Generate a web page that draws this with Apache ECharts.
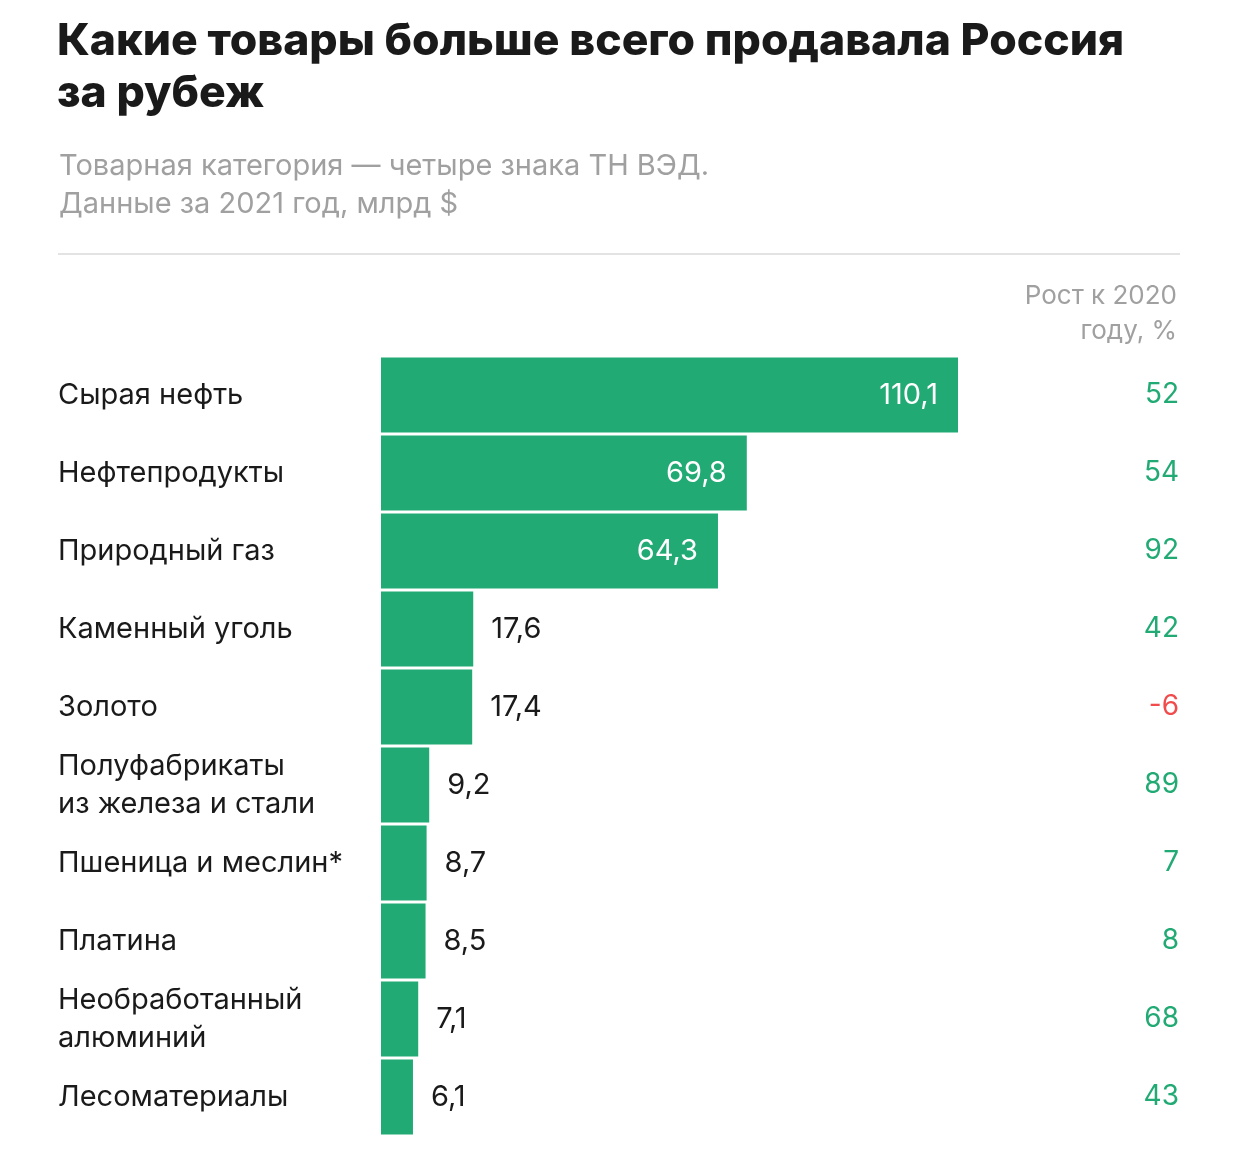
<!DOCTYPE html>
<html lang="ru">
<head>
    <meta charset="UTF-8">
    <title>Экспорт России 2021</title>
    <script type="text/javascript" src="https://cdn.jsdelivr.net/npm/echarts@6/dist/echarts.min.js"></script>
    <style>
        html, body { margin: 0; padding: 0; background: #fff; }
    </style>
</head>
<body>
    <div id="main" style="width: 1260px; height: 1156px;"></div>

    <script type="text/javascript">
        // данные: млрд $, 2021 год
        var categories = [
            'Сырая нефть',
            'Нефтепродукты',
            'Природный газ',
            'Каменный уголь',
            'Золото',
            'Полуфабрикаты\nиз железа и стали',
            'Пшеница и меслин*',
            'Платина',
            'Необработанный\nалюминий',
            'Лесоматериалы'
        ];
        var values = [110.1, 69.8, 64.3, 17.6, 17.4, 9.2, 8.7, 8.5, 7.1, 6.1];
        var growth = [52, 54, 92, 42, -6, 89, 7, 8, 68, 43]; // рост к 2020, %

        var green = '#22aa74';
        var red = '#f24b4b';
        var font = 'Inter';

        function fmt(v) {
            return String(v).replace('.', ',');
        }

        var myChart = echarts.init(document.getElementById('main'));

        myChart.setOption({
            backgroundColor: '#fff',
            animation: false,
            title: [{
                text: 'Какие товары больше всего продавала Россия\nза рубеж',
                left: 52,
                top: 11,
                textStyle: {
                    fontFamily: font,
                    fontSize: 44.5,
                    fontWeight: 800,
                    color: '#1a1a1a',
                    lineHeight: 52
                }
            }, {
                text: 'Товарная категория — четыре знака ТН ВЭД.\nДанные за 2021 год, млрд $',
                left: 54,
                top: 142,
                textStyle: {
                    fontFamily: font,
                    fontSize: 29,
                    fontWeight: 400,
                    color: '#a0a0a0',
                    lineHeight: 38
                }
            }],
            graphic: [{
                type: 'line',
                shape: { x1: 58, y1: 254, x2: 1180, y2: 254 },
                style: { stroke: '#e3e3e3', lineWidth: 2 }
            }, {
                type: 'text',
                x: 1177,
                y: 279,
                style: {
                    text: 'Рост к 2020\nгоду, %',
                    align: 'right',
                    verticalAlign: 'top',
                    fontFamily: font,
                    fontSize: 26,
                    lineHeight: 35,
                    fill: '#a0a0a0'
                }
            }],
            grid: {
                left: 381,
                width: 577,
                top: 356,
                height: 780
            },
            xAxis: {
                type: 'value',
                min: 0,
                max: 110.1,
                show: false
            },
            yAxis: [{
                type: 'category',
                data: categories,
                inverse: true,
                axisLine: { show: false },
                axisTick: { show: false },
                axisLabel: {
                    align: 'left',
                    margin: 323,
                    fontFamily: font,
                    fontSize: 29,
                    color: '#1a1a1a',
                    lineHeight: 38
                }
            }, {
                type: 'category',
                data: growth,
                inverse: true,
                position: 'right',
                axisLine: { show: false },
                axisTick: { show: false },
                axisLabel: {
                    align: 'right',
                    margin: 221,
                    fontFamily: font,
                    fontSize: 28,
                    formatter: function(v) {
                        return Number(v) < 0 ? '{neg|' + v + '}' : '{pos|' + v + '}';
                    },
                    rich: {
                        pos: { color: green, fontFamily: font, fontSize: 28 },
                        neg: { color: red, fontFamily: font, fontSize: 28 }
                    }
                }
            }],
            series: [{
                type: 'bar',
                data: values.map(function(v) {
                    var inside = v > 40;
                    return {
                        value: v,
                        label: {
                            position: inside ? 'insideRight' : 'right',
                            distance: inside ? 20 : 18,
                            color: inside ? '#fff' : '#1a1a1a'
                        }
                    };
                }),
                barCategoryGap: '4%',
                itemStyle: { color: green },
                label: {
                    show: true,
                    fontFamily: font,
                    fontSize: 29,
                    formatter: function(p) { return fmt(p.value); }
                }
            }]
        });
    </script>
</body>
</html>
